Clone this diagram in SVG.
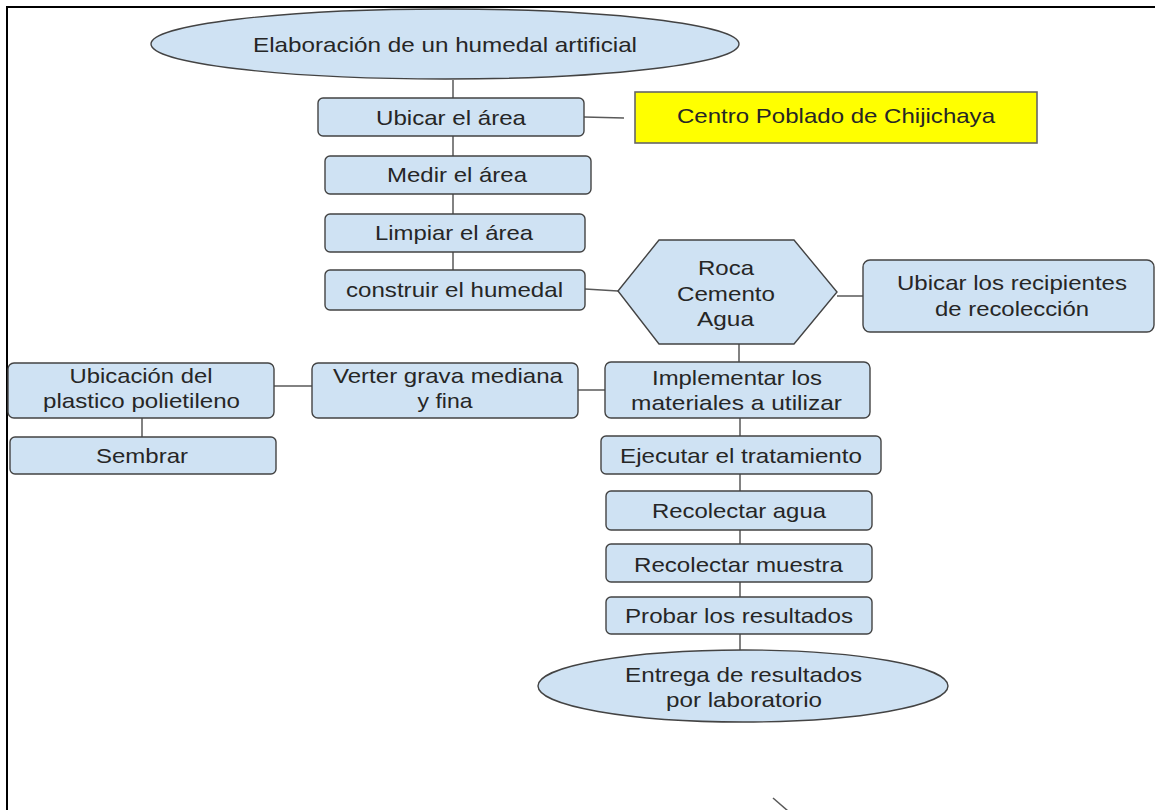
<svg xmlns="http://www.w3.org/2000/svg" width="1155" height="810" viewBox="0 0 1155 810">
<style>
.box{fill:#cfe2f3;stroke:#434343;stroke-width:1.4}
.yel{fill:#ffff00;stroke:#666666;stroke-width:1.6}
.t{font-family:"Liberation Sans",Arial,sans-serif;font-size:21px;fill:#262626;text-anchor:middle}
.c line,.c path{stroke:#595959;stroke-width:1.5;fill:none}
</style>
<rect x="0" y="0" width="1155" height="810" fill="#ffffff"/>
<path d="M7,810 V7 H1155" fill="none" stroke="#000000" stroke-width="2"/>
<g class="c" id="connectors">
<line x1="453" y1="80" x2="453" y2="98"/>
<line x1="584" y1="117" x2="624" y2="118"/>
<line x1="453" y1="136" x2="453" y2="270"/>
<line x1="585" y1="289" x2="618" y2="291"/>
<line x1="837" y1="296" x2="863" y2="296"/>
<line x1="739" y1="344" x2="739" y2="362"/>
<line x1="578" y1="390" x2="605" y2="390"/>
<line x1="274" y1="386" x2="312" y2="386"/>
<line x1="142" y1="418" x2="142" y2="437"/>
<line x1="740" y1="418" x2="740" y2="650"/>
<line x1="773" y1="798" x2="788" y2="811"/>
</g>
<g id="n-elaboracion"><ellipse class="box" cx="445" cy="44" rx="294" ry="35"/><text class="t" x="445" y="52" textLength="384" lengthAdjust="spacingAndGlyphs">Elaboración de un humedal artificial</text></g>
<g id="n-ubicar"><rect class="box" x="318" y="98" width="266" height="38" rx="5"/><text class="t" x="451" y="125" textLength="150" lengthAdjust="spacingAndGlyphs">Ubicar el área</text></g>
<g id="n-centro"><rect class="yel" x="635" y="92" width="402" height="51"/><text class="t" x="836" y="123" textLength="318" lengthAdjust="spacingAndGlyphs">Centro Poblado de Chijichaya</text></g>
<g id="n-medir"><rect class="box" x="325" y="156" width="266" height="38" rx="5"/><text class="t" x="457" y="182" textLength="140" lengthAdjust="spacingAndGlyphs">Medir el área</text></g>
<g id="n-limpiar"><rect class="box" x="325" y="214" width="260" height="38" rx="5"/><text class="t" x="454" y="240" textLength="158" lengthAdjust="spacingAndGlyphs">Limpiar el área</text></g>
<g id="n-construir"><rect class="box" x="325" y="270" width="260" height="40" rx="5"/><text class="t" x="454.5" y="297" textLength="217" lengthAdjust="spacingAndGlyphs">construir el humedal</text></g>
<g id="n-materiales"><polygon class="box" points="618,291 659,240 794,240 837,292 794,344 659,344"/>
<text class="t" x="726" y="275" textLength="56" lengthAdjust="spacingAndGlyphs">Roca</text>
<text class="t" x="726" y="301" textLength="98" lengthAdjust="spacingAndGlyphs">Cemento</text>
<text class="t" x="725.5" y="326" textLength="57" lengthAdjust="spacingAndGlyphs">Agua</text></g>
<g id="n-recipientes"><rect class="box" x="863" y="260" width="291" height="72" rx="7"/>
<text class="t" x="1012" y="290" textLength="230" lengthAdjust="spacingAndGlyphs">Ubicar los recipientes</text>
<text class="t" x="1012" y="316" textLength="154" lengthAdjust="spacingAndGlyphs">de recolección</text></g>
<g id="n-implementar"><rect class="box" x="605" y="362" width="265" height="56" rx="6"/>
<text class="t" x="737" y="385" textLength="170" lengthAdjust="spacingAndGlyphs">Implementar los</text>
<text class="t" x="736.5" y="410" textLength="211" lengthAdjust="spacingAndGlyphs">materiales a utilizar</text></g>
<g id="n-verter"><rect class="box" x="312" y="363" width="266" height="55" rx="6"/>
<text class="t" x="448" y="383" textLength="230" lengthAdjust="spacingAndGlyphs">Verter grava mediana</text>
<text class="t" x="445" y="408" textLength="55" lengthAdjust="spacingAndGlyphs">y fina</text></g>
<g id="n-plastico"><rect class="box" x="8" y="363" width="266" height="55" rx="6"/>
<text class="t" x="141" y="383" textLength="143" lengthAdjust="spacingAndGlyphs">Ubicación del</text>
<text class="t" x="141.5" y="408" textLength="197" lengthAdjust="spacingAndGlyphs">plastico polietileno</text></g>
<g id="n-sembrar"><rect class="box" x="10" y="437" width="266" height="37" rx="5"/><text class="t" x="142" y="463" textLength="92" lengthAdjust="spacingAndGlyphs">Sembrar</text></g>
<g id="n-ejecutar"><rect class="box" x="601" y="436" width="280" height="38" rx="5"/><text class="t" x="741" y="463" textLength="242" lengthAdjust="spacingAndGlyphs">Ejecutar el tratamiento</text></g>
<g id="n-agua"><rect class="box" x="606" y="491" width="266" height="39" rx="5"/><text class="t" x="739" y="518" textLength="174" lengthAdjust="spacingAndGlyphs">Recolectar agua</text></g>
<g id="n-muestra"><rect class="box" x="606" y="544" width="266" height="38" rx="5"/><text class="t" x="738.5" y="572" textLength="209" lengthAdjust="spacingAndGlyphs">Recolectar muestra</text></g>
<g id="n-probar"><rect class="box" x="606" y="597" width="266" height="37" rx="5"/><text class="t" x="739" y="623" textLength="228" lengthAdjust="spacingAndGlyphs">Probar los resultados</text></g>
<g id="n-entrega"><ellipse class="box" cx="743" cy="686" rx="205" ry="36"/>
<text class="t" x="743.5" y="682" textLength="237" lengthAdjust="spacingAndGlyphs">Entrega de resultados</text>
<text class="t" x="744" y="707" textLength="156" lengthAdjust="spacingAndGlyphs">por laboratorio</text></g>
</svg>
